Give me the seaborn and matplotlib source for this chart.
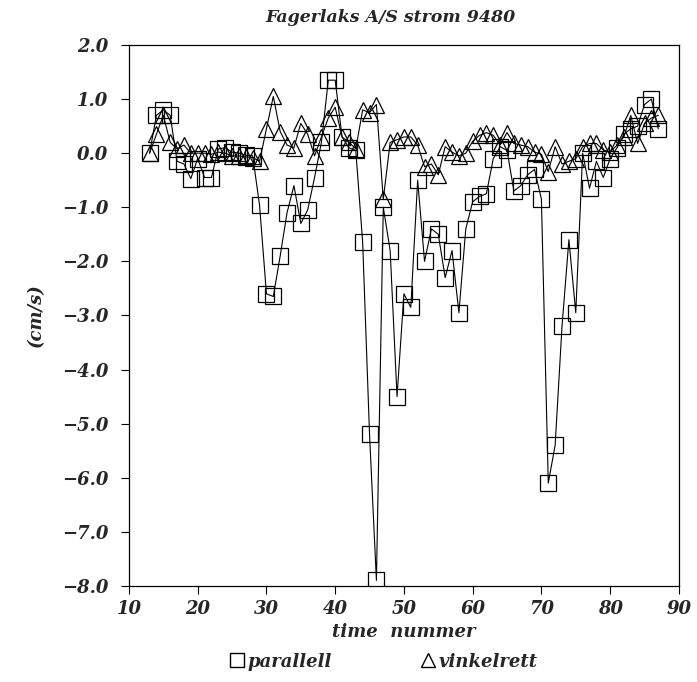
import numpy as np
import pandas as pd
import matplotlib
matplotlib.use('Agg')
import matplotlib.pyplot as plt
from matplotlib.lines import Line2D
import seaborn as sns

# time nummer (hour index)
hours = list(range(13, 88))

# parallell component (cm/s)
parallell = [0.0, 0.7, 0.8, 0.7, -0.15, -0.2, -0.47, -0.1, -0.45, -0.45,
             0.08, 0.1, 0.02, 0.0, -0.04, -0.05, -0.96, -2.6, -2.65, -1.9,
             -1.1, -0.6, -1.3, -1.05, -0.45, 0.2, 1.35, 1.35, 0.3, 0.1,
             0.05, -1.65, -5.2, -7.9, -1.0, -1.8, -4.5, -2.6, -2.85, -0.5,
             -2.0, -1.4, -1.5, -2.3, -1.8, -2.95, -1.4, -0.9, -0.8, -0.75,
             -0.1, 0.12, 0.05, -0.7, -0.6, -0.4, -0.3, -0.85, -6.1, -5.4,
             -3.2, -1.6, -2.95, 0.0, -0.65, -0.15, -0.45, -0.1, 0.1, 0.35,
             0.45, 0.5, 0.9, 1.0, 0.45]

# vinkelrett component (cm/s)
vinkelrett = [0.0, 0.35, 0.7, 0.2, 0.08, 0.15, 0.0, 0.0, 0.0, -0.02,
              0.02, 0.0, -0.05, -0.05, -0.07, -0.08, -0.15, 0.45, 1.05, 0.4,
              0.15, 0.1, 0.55, 0.35, -0.05, 0.3, 0.65, 0.85, 0.3, 0.2,
              0.08, 0.8, 0.75, 0.9, -0.85, 0.2, 0.25, 0.3, 0.3, 0.15,
              -0.25, -0.2, -0.4, 0.12, 0.02, -0.05, 0.0, 0.22, 0.33, 0.38,
              0.33, 0.15, 0.38, 0.18, 0.15, 0.12, 0.02, -0.02, -0.34, 0.12,
              -0.2, -0.15, -0.1, 0.12, 0.18, 0.18, 0.06, 0.02, 0.15, 0.3,
              0.7, 0.18, 0.55, 0.65, 0.7]

df = pd.DataFrame({'time': hours, 'parallell': parallell, 'vinkelrett': vinkelrett})

sns.set_style('ticks')
plt.rcParams['font.family'] = ['DejaVu Serif', 'DejaVu Sans']
plt.rcParams['font.style'] = 'italic'
plt.rcParams['font.weight'] = 'bold'
plt.rcParams['axes.labelweight'] = 'bold'

fig = plt.figure(figsize=(6.97, 6.82), dpi=100)
ax = fig.add_axes([0.185, 0.141, 0.789, 0.793])

# draw both series as open markers joined by thin lines
sns.lineplot(data=df, x='time', y='parallell', ax=ax, color='black',
             lw=0.8, marker='s', markersize=11, markerfacecolor='none',
             markeredgecolor='black', markeredgewidth=0.9)
sns.lineplot(data=df, x='time', y='vinkelrett', ax=ax, color='black',
             lw=0.8, marker='^', markersize=12, markerfacecolor='none',
             markeredgecolor='black', markeredgewidth=0.9)

ax.set_xlim(10, 90)
ax.set_ylim(-8, 2)
yt = np.arange(-8, 2.1, 1)
ax.set_xticks(np.arange(10, 91, 10))
ax.set_yticks(yt)
ax.set_yticklabels(['%.1f' % v if v >= 0 else '\u2212%.1f' % abs(v) for v in yt])
ax.tick_params(labelsize=13, direction='out', length=6, width=0.8, color='black')
ax.tick_params(axis='y', pad=9)
ax.tick_params(axis='x', pad=4)
for s in ax.spines.values():
    s.set_linewidth(0.9)
    s.set_color('black')

ax.set_xlabel('time  nummer', fontsize=13, labelpad=4)
ax.set_ylabel('(cm/s)', fontsize=13, labelpad=12)
fig.text(0.56, 0.975, 'Fagerlaks A/S strom 9480', fontsize=12.5,
         ha='center', va='center')

handles = [Line2D([], [], ls='none', marker='s', ms=10, mfc='none', mec='black'),
           Line2D([], [], ls='none', marker='^', ms=10, mfc='none', mec='black')]
fig.legend(handles, ['parallell', 'vinkelrett'], loc='center', ncol=2,
           bbox_to_anchor=(0.552, 0.03), frameon=False, fontsize=13,
           handlelength=0.6, handletextpad=0.3, columnspacing=5.0)

plt.savefig('out.png', dpi=100)
